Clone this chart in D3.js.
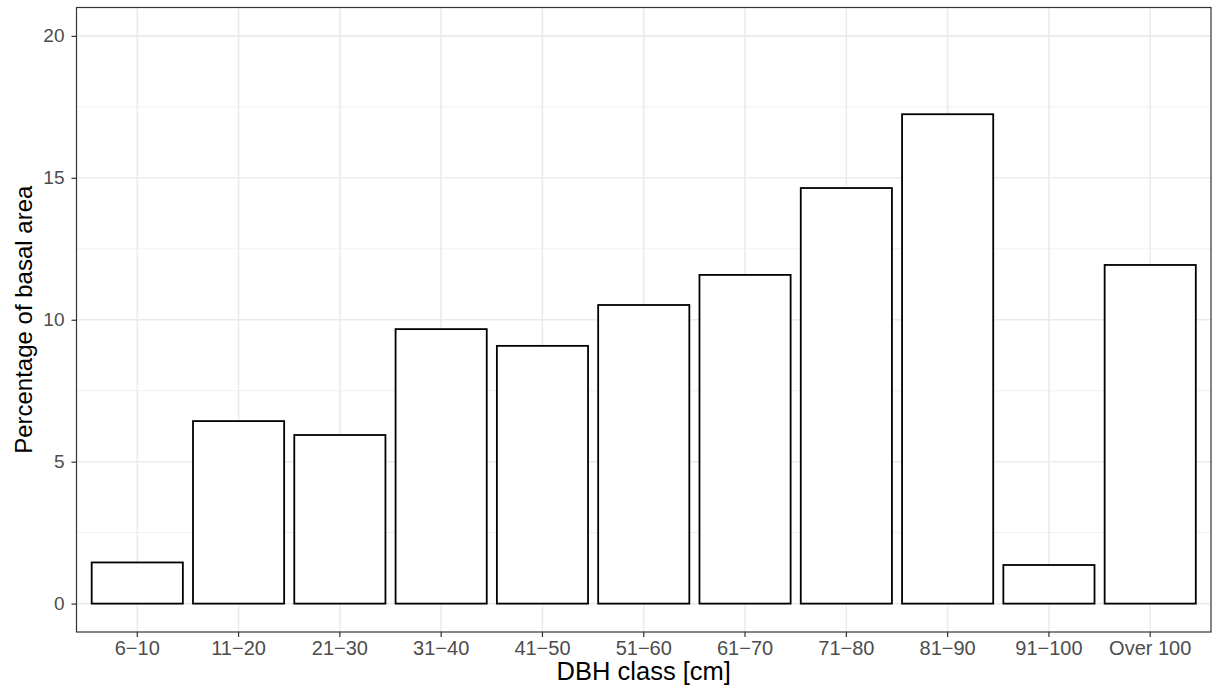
<!DOCTYPE html>
<html><head><meta charset="utf-8">
<script src="https://cdn.jsdelivr.net/npm/d3@7"></script>
<style>body{margin:0;background:#fff;} svg{display:block;}</style>
</head><body>
<svg id="chart" width="1214" height="689"></svg>
<script>
const categories = ["6\u221210","11\u221220","21\u221230","31\u221240","41\u221250","51\u221260","61\u221270","71\u221280","81\u221290","91\u2212100","Over 100"];
const values = [1.45, 6.43, 5.94, 9.67, 9.08, 10.52, 11.58, 14.64, 17.24, 1.36, 11.93];
const yTicks = [0, 5, 10, 15, 20];
const yMinor = [2.5, 7.5, 12.5, 17.5];
const xTitle = "DBH class [cm]";
const yTitle = "Percentage of basal area";

const svg = d3.select("#chart");
const L = 76.5, R = 1211, T = 7.5, B = 632;
const x = d3.scaleBand().domain(categories).range([L, R]).paddingInner(0.1).paddingOuter(0.15);
const y = d3.scaleLinear().domain([-1, 21]).range([B, T]);

const font = "'Liberation Sans', Arial, sans-serif";

// grid minor
svg.append("g").selectAll("line").data(yMinor).join("line")
  .attr("x1", L).attr("x2", R).attr("y1", d => y(d)).attr("y2", d => y(d))
  .attr("stroke", "#ebebeb").attr("stroke-width", 0.8);
// grid major
svg.append("g").selectAll("line").data(yTicks).join("line")
  .attr("x1", L).attr("x2", R).attr("y1", d => y(d)).attr("y2", d => y(d))
  .attr("stroke", "#ebebeb").attr("stroke-width", 1.6);
svg.append("g").selectAll("line").data(categories).join("line")
  .attr("x1", d => x(d) + x.bandwidth()/2).attr("x2", d => x(d) + x.bandwidth()/2)
  .attr("y1", T).attr("y2", B)
  .attr("stroke", "#ebebeb").attr("stroke-width", 1.6);

// bars
svg.append("g").selectAll("rect").data(values).join("rect")
  .attr("x", (d, i) => x(categories[i]))
  .attr("width", x.bandwidth())
  .attr("y", d => y(d))
  .attr("height", d => y(0) - y(d))
  .attr("fill", "#fff").attr("stroke", "#000").attr("stroke-width", 1.8);

// panel border
svg.append("rect").attr("x", L).attr("y", T).attr("width", R - L).attr("height", B - T)
  .attr("fill", "none").attr("stroke", "#333").attr("stroke-width", 1.2);

// axes
const yAxis = d3.axisLeft(y).tickValues(yTicks).tickSize(5).tickPadding(7);
const gy = svg.append("g").attr("transform", `translate(${L},0)`).call(yAxis);
gy.select(".domain").remove();
gy.selectAll(".tick line").attr("stroke", "#333").attr("stroke-width", 1.2);
gy.selectAll(".tick text").attr("fill", "#4d4d4d").style("font-family", font).style("font-size", "19px");

const xAxis = d3.axisBottom(x).tickSize(5).tickPadding(4);
const gx = svg.append("g").attr("transform", `translate(0,${B})`).call(xAxis);
gx.select(".domain").remove();
gx.selectAll(".tick line").attr("stroke", "#333").attr("stroke-width", 1.2);
gx.selectAll(".tick text").attr("fill", "#4d4d4d").style("font-family", font).style("font-size", "20px");

// titles
svg.append("text").attr("x", (L + R) / 2).attr("y", 680)
  .attr("text-anchor", "middle").style("font-family", font).style("font-size", "25.5px")
  .attr("fill", "#000").text(xTitle);
svg.append("text").attr("transform", `translate(32,${(T + B) / 2}) rotate(-90)`)
  .attr("text-anchor", "middle").style("font-family", font).style("font-size", "24px")
  .attr("fill", "#000").text(yTitle);
</script>
</body></html>
